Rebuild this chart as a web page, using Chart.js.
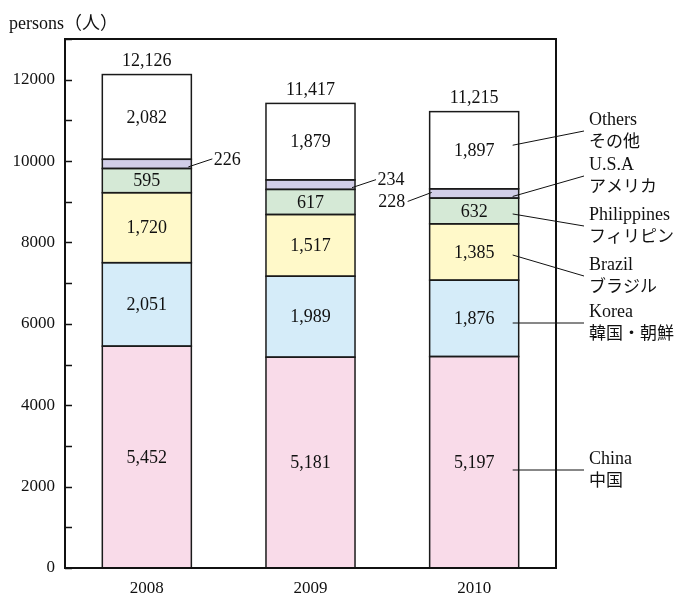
<!DOCTYPE html>
<html><head><meta charset="utf-8">
<script src="https://cdn.jsdelivr.net/npm/chart.js@4/dist/chart.umd.min.js"></script>
<style>html,body{margin:0;padding:0;background:#fff;}canvas{display:block;}</style>
</head><body>
<canvas id="c" width="684" height="597"></canvas>
<script>
const years = ['2008', '2009', '2010'];
const china = [5452, 5181, 5197];
const korea = [2051, 1989, 1876];
const brazil = [1720, 1517, 1385];
const philippines = [595, 617, 632];
const usa = [226, 234, 228];
const others = [2082, 1879, 1897];
const totals = [12126, 11417, 11215];
const seriesEn = ['China', 'Korea', 'Brazil', 'Philippines', 'U.S.A', 'Others'];
const seriesJa = ['中国', '韓国・朝鮮', 'ブラジル', 'フィリピン', 'アメリカ', 'その他'];
const yTitle = 'persons（人）';

const colors = ['#f9dbe9', '#d5ecf9', '#fff9c9', '#d5e9d6', '#d2cee8', '#ffffff'];
const allSeries = [china, korea, brazil, philippines, usa, others];
const SERIF = '"Liberation Serif", "Noto Sans CJK JP", serif';
const fmt = v => v.toLocaleString('en-US');

const datasets = allSeries.map((d, i) => ({
  label: seriesEn[i], data: d, backgroundColor: colors[i],
  borderColor: '#1a1a1a', borderWidth: 0,
  barPercentage: 0.544, categoryPercentage: 1.0, stack: 's'
}));

// legend anchor y positions (text layout) for each series
const legendMid = [469, 322, 275, 225, 175, 130];

const annot = {
  id: 'annot',
  afterDatasetsDraw(chart) {
    const ctx = chart.ctx;
    ctx.save();
    // segment outlines (single shared lines between segments)
    ctx.strokeStyle = '#1a1a1a';
    ctx.lineWidth = 1.5;
    allSeries.forEach((d, si) => {
      chart.getDatasetMeta(si).data.forEach(bar => {
        const h = bar.width / 2;
        ctx.strokeRect(bar.x - h, bar.y, bar.width, bar.base - bar.y);
      });
    });
    ctx.fillStyle = '#111';
    ctx.strokeStyle = '#111';
    ctx.font = '18px ' + SERIF;
    ctx.textAlign = 'center';
    ctx.textBaseline = 'middle';
    // value labels
    allSeries.forEach((d, si) => {
      if (si === 4) return;
      const meta = chart.getDatasetMeta(si);
      meta.data.forEach((bar, i) => {
        const cy = (bar.y + bar.base) / 2;
        ctx.fillText(fmt(d[i]), bar.x, cy + 1);
      });
    });
    // totals
    const topMeta = chart.getDatasetMeta(5);
    topMeta.data.forEach((bar, i) => {
      ctx.fillText(fmt(totals[i]), bar.x, bar.y - 13);
    });
    // USA small labels with leader lines
    ctx.lineWidth = 1;
    const usaMeta = chart.getDatasetMeta(4);
    usaMeta.data.forEach((bar, i) => {
      const cy = (bar.y + bar.base) / 2;
      const half = bar.width / 2;
      let sx, sy, ex, ey, tx, ty;
      if (i < 2) {
        sx = bar.x + half - 3; sy = cy + 3; ex = bar.x + half + 21; ey = cy - 5;
        tx = ex + 15; ty = cy - 4;
      } else {
        sx = bar.x - half + 2; sy = cy - 1; ex = bar.x - half - 22; ey = cy + 8;
        tx = ex - 16; ty = cy + 9;
      }
      ctx.beginPath(); ctx.moveTo(sx, sy); ctx.lineTo(ex, ey); ctx.stroke();
      ctx.fillText(fmt(usa[i]), tx, ty);
    });
    // right-side legend with leader lines from last bar
    ctx.textAlign = 'left';
    allSeries.forEach((d, si) => {
      const bar = chart.getDatasetMeta(si).data[2];
      let cy = (bar.y + bar.base) / 2 + 3;
      if (si === 5) cy -= 8;
      const sx = bar.x + bar.width / 2 - 6;
      const mid = legendMid[si];
      let ey = mid + 1;
      let sy = cy;
      if (Math.abs(sy - ey) < 8) sy = ey;
      ctx.beginPath(); ctx.moveTo(sx, sy); ctx.lineTo(584, ey); ctx.stroke();
      ctx.font = '18px "Liberation Serif", serif';
      ctx.fillText(seriesEn[si], 589, mid - 10);
      ctx.font = '17px "Noto Sans CJK JP", sans-serif';
      ctx.fillText(seriesJa[si], 589, mid + 11);
    });
    ctx.restore();
  },
  afterDraw(chart) {
    const ctx = chart.ctx;
    const a = chart.chartArea;
    const ys = chart.scales.y;
    ctx.save();
    ctx.strokeStyle = '#111';
    ctx.lineWidth = 1.5;
    ys.ticks.forEach(t => {
      const y = Math.round(ys.getPixelForValue(t.value)) + 0.5;
      ctx.beginPath(); ctx.moveTo(a.left, y); ctx.lineTo(a.left + 7, y); ctx.stroke();
    });
    ctx.lineWidth = 2;
    ctx.strokeRect(a.left, a.top, a.right - a.left, a.bottom - a.top);
    ctx.fillStyle = '#111';
    ctx.textAlign = 'left';
    ctx.textBaseline = 'middle';
    ctx.font = '18px ' + SERIF;
    ctx.fillText(yTitle, 9, 24);
    ctx.restore();
  }
};

new Chart(document.getElementById('c'), {
  type: 'bar',
  data: { labels: years, datasets },
  options: {
    responsive: false, animation: false,
    layout: { padding: { left: 0, right: 128, top: 39, bottom: 0 } },
    plugins: { legend: { display: false }, tooltip: { enabled: false } },
    scales: {
      x: {
        stacked: true,
        grid: { display: false, drawTicks: false },
        border: { display: false },
        ticks: { color: '#111', font: { family: SERIF, size: 17 }, padding: 10 },
        afterFit(s) { s.height = 29; }
      },
      y: {
        stacked: true, min: 0, max: 13000,
        grid: { display: false, drawTicks: false },
        border: { display: false },
        ticks: {
          stepSize: 1000, autoSkip: false, color: '#111', padding: 10,
          font: { family: SERIF, size: 17 },
          callback: v => (v % 2000 === 0 ? String(v) : '')
        },
        afterFit(s) { s.width = 65; }
      }
    }
  },
  plugins: [annot]
});
</script>
</body></html>
